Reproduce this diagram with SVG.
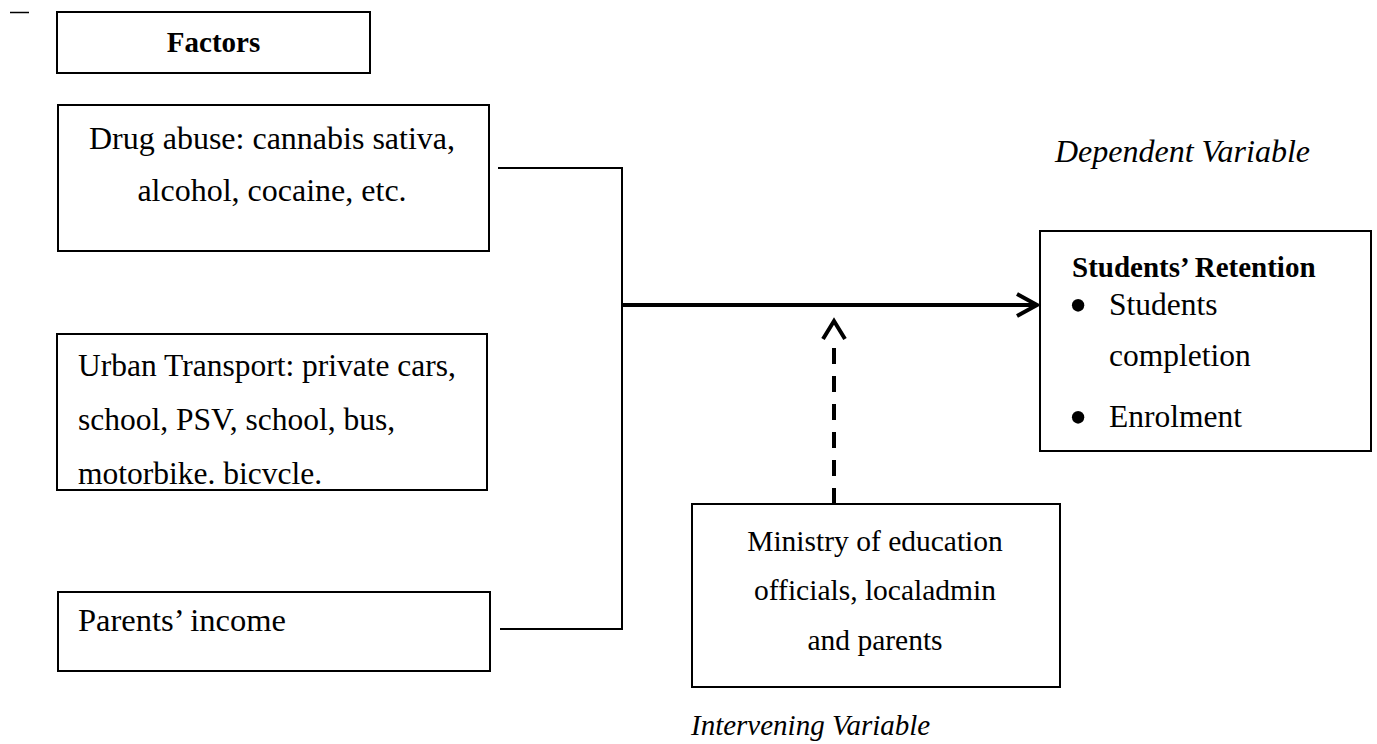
<svg xmlns="http://www.w3.org/2000/svg" width="1377" height="744" viewBox="0 0 1377 744">
<style>
.box{fill:#fff;stroke:#000;stroke-width:2}
.t{font-family:"Liberation Serif","Times New Roman",serif;font-size:31.5px;fill:#000}
.b{font-weight:bold;font-size:29px}
.i{font-style:italic}
.c{text-anchor:middle}
.ln{fill:none;stroke:#000;stroke-width:2}
.ar{fill:none;stroke:#000;stroke-width:4}
.bul{font-family:"Liberation Serif","Times New Roman",serif;font-size:52px;text-anchor:middle;fill:#000}
</style>
<rect width="1377" height="744" fill="#fff"/>
<line x1="10" y1="12.5" x2="29" y2="12.5" stroke="#000" stroke-width="1.5"/>
<g id="factors">
<rect class="box" x="57" y="12" width="313" height="61"/>
<text class="t b c" x="213.5" y="52">Factors</text>
</g>
<g id="drug">
<rect class="box" x="58" y="105" width="431" height="146"/>
<text class="t c" x="272" y="149" style="font-size:32px">Drug abuse: cannabis sativa,</text>
<text class="t c" x="272" y="201" style="font-size:32px">alcohol, cocaine, etc.</text>
</g>
<g id="transport">
<rect class="box" x="57" y="334" width="430" height="156"/>
<text class="t" x="78" y="376">Urban Transport: private cars,</text>
<text class="t" x="78" y="430">school, PSV, school, bus,</text>
<text class="t" x="78" y="484">motorbike. bicvcle.</text>
</g>
<g id="income">
<rect class="box" x="58" y="592" width="432" height="79"/>
<text class="t" x="78" y="631" style="font-size:32.5px">Parents’ income</text>
</g>
<g id="ministry">
<rect class="box" x="692" y="504" width="368" height="183"/>
<text class="t c" x="875" y="551" style="font-size:29.5px">Ministry of education</text>
<text class="t c" x="875" y="600" style="font-size:29.5px">officials, localadmin</text>
<text class="t c" x="875" y="650" style="font-size:29.5px">and parents</text>
</g>
<g id="retention">
<rect class="box" x="1040" y="231" width="331" height="220"/>
<text class="t b" x="1072" y="277">Students’ Retention</text>
<text class="bul" x="1078" y="323">•</text>
<text class="t" x="1109" y="315">Students</text>
<text class="t" x="1109" y="366">completion</text>
<text class="bul" x="1078" y="435">•</text>
<text class="t" x="1109" y="427">Enrolment</text>
</g>
<g id="labels">
<text class="t i" x="1055" y="162" style="font-size:32px">Dependent Variable</text>
<text class="t i" x="691" y="735" style="font-size:29px">Intervening Variable</text>
</g>
<g id="connectors">
<polyline class="ln" points="498,168 622,168 622,629 500,629"/>
<line class="ar" x1="622" y1="305" x2="1036" y2="305"/>
<polyline class="ar" points="1017,294 1037,305 1017,316"/>
<line class="ar" x1="834" y1="504" x2="834" y2="348" stroke-dasharray="16,12"/>
<polyline class="ar" points="823,339 834,321 845,339"/>
</g>
</svg>
